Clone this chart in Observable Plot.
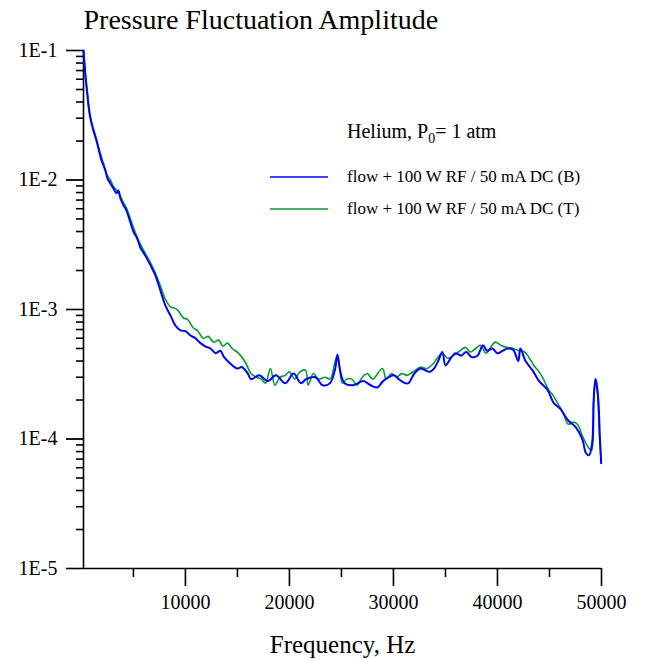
<!DOCTYPE html>
<html><head><meta charset="utf-8">
<script src="https://cdn.jsdelivr.net/npm/d3@7"></script>
<script src="https://cdn.jsdelivr.net/npm/@observablehq/plot@0.6"></script>
<style>
body{margin:0;background:#fff}
#wrap{position:relative;width:646px;height:659px}
#legend{position:absolute;left:0;top:0;pointer-events:none}
svg{font-family:"Liberation Serif","Times New Roman",serif}
</style>
</head><body><div id="wrap"><div id="chart"></div></div>
<script>
const titleText = "Pressure Fluctuation Amplitude";
const xLabel = "Frequency, Hz";
const legendHeading = ["Helium, P", "0", "= 1 atm"];
const seriesNames = ["flow + 100 W RF / 50 mA DC (B)", "flow + 100 W RF / 50 mA DC (T)"];
const seriesColors = ["#0000ff", "#0a9a30"];

const xMajorTicks = [10000, 20000, 30000, 40000, 50000];
const xMinorTicks = [5000, 15000, 25000, 35000, 45000];
const yMajorTicks = [1e-5, 1e-4, 1e-3, 1e-2, 1e-1];
const yMinorMultipliers = [2, 3, 4, 5, 6, 7, 8, 9];

const blueData = [[200,0.100],[385,0.064],[577,0.045],[673,0.0376],[865,0.0298],[1154,0.0241],[1442,0.0202],[1731,0.0163],[1923,0.0142],[2115,0.0130],[2308,0.0118],[2500,0.0103],[2788,0.0094],[3077,0.0086],[3365,0.0079],[3558,0.0083],[3750,0.0072],[4038,0.0064],[4327,0.0058],[4711,0.0047],[5000,0.0040],[5384,0.0035],[5673,0.0030],[6154,0.0026],[6634,0.0022],[7115,0.00183],[7596,0.00140],[8077,0.00107],[8557,0.00090],[9038,0.00075],[9519,0.00069],[10000,0.00068],[10480,0.00063],[10961,0.00060],[11442,0.00055],[11900,0.00052],[12403,0.00050],[12900,0.00046],[13365,0.00048],[13700,0.00043],[14200,0.00039],[15000,0.00035],[15400,0.00036],[16000,0.00032],[16300,0.00029],[17100,0.00031],[17900,0.00028],[18700,0.00031],[19600,0.00027],[20400,0.00032],[21100,0.00027],[21600,0.00029],[22500,0.00030],[23170,0.00026],[23900,0.00027],[24400,0.00035],[24614,0.00045],[24900,0.00033],[25300,0.00027],[26100,0.00026],[27100,0.00028],[27800,0.00026],[28460,0.00025],[29000,0.00028],[30100,0.00031],[30500,0.00029],[31100,0.00027],[31440,0.00027],[32000,0.00032],[32600,0.00035],[33500,0.00033],[33900,0.00035],[34300,0.00040],[34700,0.00047],[35000,0.00037],[35500,0.00042],[35960,0.00046],[36500,0.00044],[37000,0.00047],[37500,0.00043],[38070,0.00044],[38600,0.00053],[39000,0.00048],[39500,0.00050],[40000,0.00046],[40500,0.00048],[41000,0.00050],[41500,0.00049],[42000,0.00040],[42200,0.00050],[42700,0.00040],[43460,0.00033],[44000,0.00028],[44800,0.00024],[45400,0.00019],[46060,0.00017],[46800,0.000139],[47500,0.000124],[48170,0.000099],[48500,0.000078],[48800,0.000075],[49100,0.000093],[49250,0.00020],[49420,0.00029],[49550,0.00026],[49710,0.00019],[49850,0.00010],[49970,0.000065]];

const greenData = [[200,0.100],[385,0.066],[577,0.047],[865,0.031],[1154,0.0248],[1442,0.0208],[1731,0.0170],[2115,0.0135],[2500,0.0108],[2788,0.0100],[3077,0.0089],[3365,0.0084],[3750,0.0075],[4038,0.0067],[4327,0.0061],[4711,0.0050],[5000,0.0043],[5384,0.0036],[5673,0.0032],[6154,0.0027],[6634,0.0023],[7115,0.0019],[7596,0.00152],[8077,0.00120],[8557,0.00105],[9000,0.00102],[9300,0.00098],[9800,0.00086],[10200,0.00084],[10700,0.00073],[11200,0.00068],[11700,0.00060],[12200,0.00062],[12700,0.00056],[13200,0.00058],[13600,0.00052],[14038,0.00055],[14500,0.00050],[15100,0.00046],[15770,0.00039],[16300,0.00032],[16800,0.00030],[17300,0.00029],[17700,0.00027],[18170,0.00035],[18600,0.00026],[19100,0.00030],[19600,0.00031],[20000,0.00033],[20500,0.00029],[21000,0.00033],[21540,0.00034],[21800,0.00026],[22300,0.00032],[22800,0.00029],[23400,0.00030],[23900,0.00029],[24400,0.00040],[24614,0.00044],[24807,0.00036],[25100,0.00027],[25500,0.00029],[26000,0.00029],[26500,0.00026],[27000,0.00030],[27500,0.00032],[28000,0.00029],[28940,0.00035],[29300,0.00029],[29800,0.00032],[30300,0.00030],[30800,0.00032],[31300,0.00031],[31630,0.00032],[32100,0.00034],[32600,0.00036],[33200,0.00035],[33800,0.00038],[34200,0.00042],[34700,0.00046],[35200,0.00042],[35770,0.00044],[36400,0.00048],[36920,0.00051],[37400,0.00047],[37900,0.00050],[38360,0.00053],[38900,0.00046],[39400,0.00052],[39800,0.00056],[40300,0.00053],[40900,0.00051],[41500,0.00050],[42100,0.00048],[42600,0.00047],[43000,0.00043],[43500,0.00037],[44000,0.00033],[44420,0.00029],[44900,0.00024],[45300,0.00022],[45770,0.00019],[46300,0.00016],[46800,0.00013],[47300,0.000135],[47690,0.00013],[48200,0.000104],[48750,0.000086],[49050,0.000082],[49250,0.00020],[49420,0.00029],[49600,0.00024],[49800,0.00011],[49970,0.000066]];

const blue = blueData.map(([f, a]) => ({f, a}));
const green = greenData.map(([f, a]) => ({f, a}));
const yMinorTicks = yMajorTicks.slice(0, -1).flatMap(d => yMinorMultipliers.map(m => m * d));
const xMin = 200, yMin = 1e-5;

const plot = Plot.plot({
  width: 646, height: 659,
  marginLeft: 83, marginRight: 45, marginTop: 50, marginBottom: 91,
  style: {fontFamily: "Liberation Serif", background: "white", color: "black", overflow: "visible"},
  x: {domain: [xMin, 50000]},
  y: {type: "log", domain: [yMin, 1e-1]},
  marks: [
    Plot.axisY(yMajorTicks, {tickSize: 17, tickPadding: 9, fontSize: 20, label: null,
      tickFormat: d => "1E" + Math.round(Math.log10(d))}),
    Plot.axisX(xMajorTicks, {tickSize: 18, tickPadding: 8, fontSize: 20, label: null,
      tickFormat: d => String(d)}),
    Plot.ruleY(yMajorTicks, {y: d => d, x1: xMin, x2: xMin, insetLeft: -17, stroke: "black", strokeWidth: 1.6}),
    Plot.ruleY(yMinorTicks, {y: d => d, x1: xMin, x2: xMin, insetLeft: -7, stroke: "black", strokeWidth: 1.6}),
    Plot.ruleX(xMajorTicks, {x: d => d, y1: yMin, y2: yMin, insetBottom: -18, stroke: "black", strokeWidth: 1.6}),
    Plot.ruleX(xMinorTicks, {x: d => d, y1: yMin, y2: yMin, insetBottom: -9, stroke: "black", strokeWidth: 1.6}),
    Plot.ruleX([xMin], {strokeWidth: 1.6, stroke: "black"}),
    Plot.ruleY([yMin], {strokeWidth: 1.6, stroke: "black"}),
    Plot.line(green, {x: "f", y: "a", stroke: seriesColors[1], strokeWidth: 1.6, curve: "catmull-rom"}),
    Plot.line(blue, {x: "f", y: "a", stroke: seriesColors[0], strokeWidth: 2, curve: "catmull-rom"}),
    Plot.text([xLabel], {frameAnchor: "bottom", dy: 84, fontSize: 25}),
    Plot.text([titleText], {frameAnchor: "top-left", textAnchor: "start", dy: -41, fontSize: 28})
  ]
});
document.getElementById("chart").appendChild(plot);

// Legend in a separate overlay svg
const lg = d3.select("#wrap").append("svg").attr("id", "legend")
  .attr("width", 646).attr("height", 659)
  .attr("font-family", "Liberation Serif").attr("fill", "black");
const head = lg.append("text").attr("x", 347).attr("y", 138).attr("font-size", 20);
head.append("tspan").text(legendHeading[0]);
head.append("tspan").attr("font-size", 14).attr("dy", 5).text(legendHeading[1]);
head.append("tspan").attr("dy", -5).text(legendHeading[2]);
seriesNames.forEach((name, i) => {
  const y = 177 + i * 32;
  lg.append("line").attr("x1", 270).attr("x2", 328).attr("y1", y).attr("y2", y)
    .attr("stroke", seriesColors[i]).attr("stroke-width", 1.5);
  lg.append("text").attr("x", 347).attr("y", y + 5).attr("font-size", 17).text(name);
});
</script>
</body></html>
